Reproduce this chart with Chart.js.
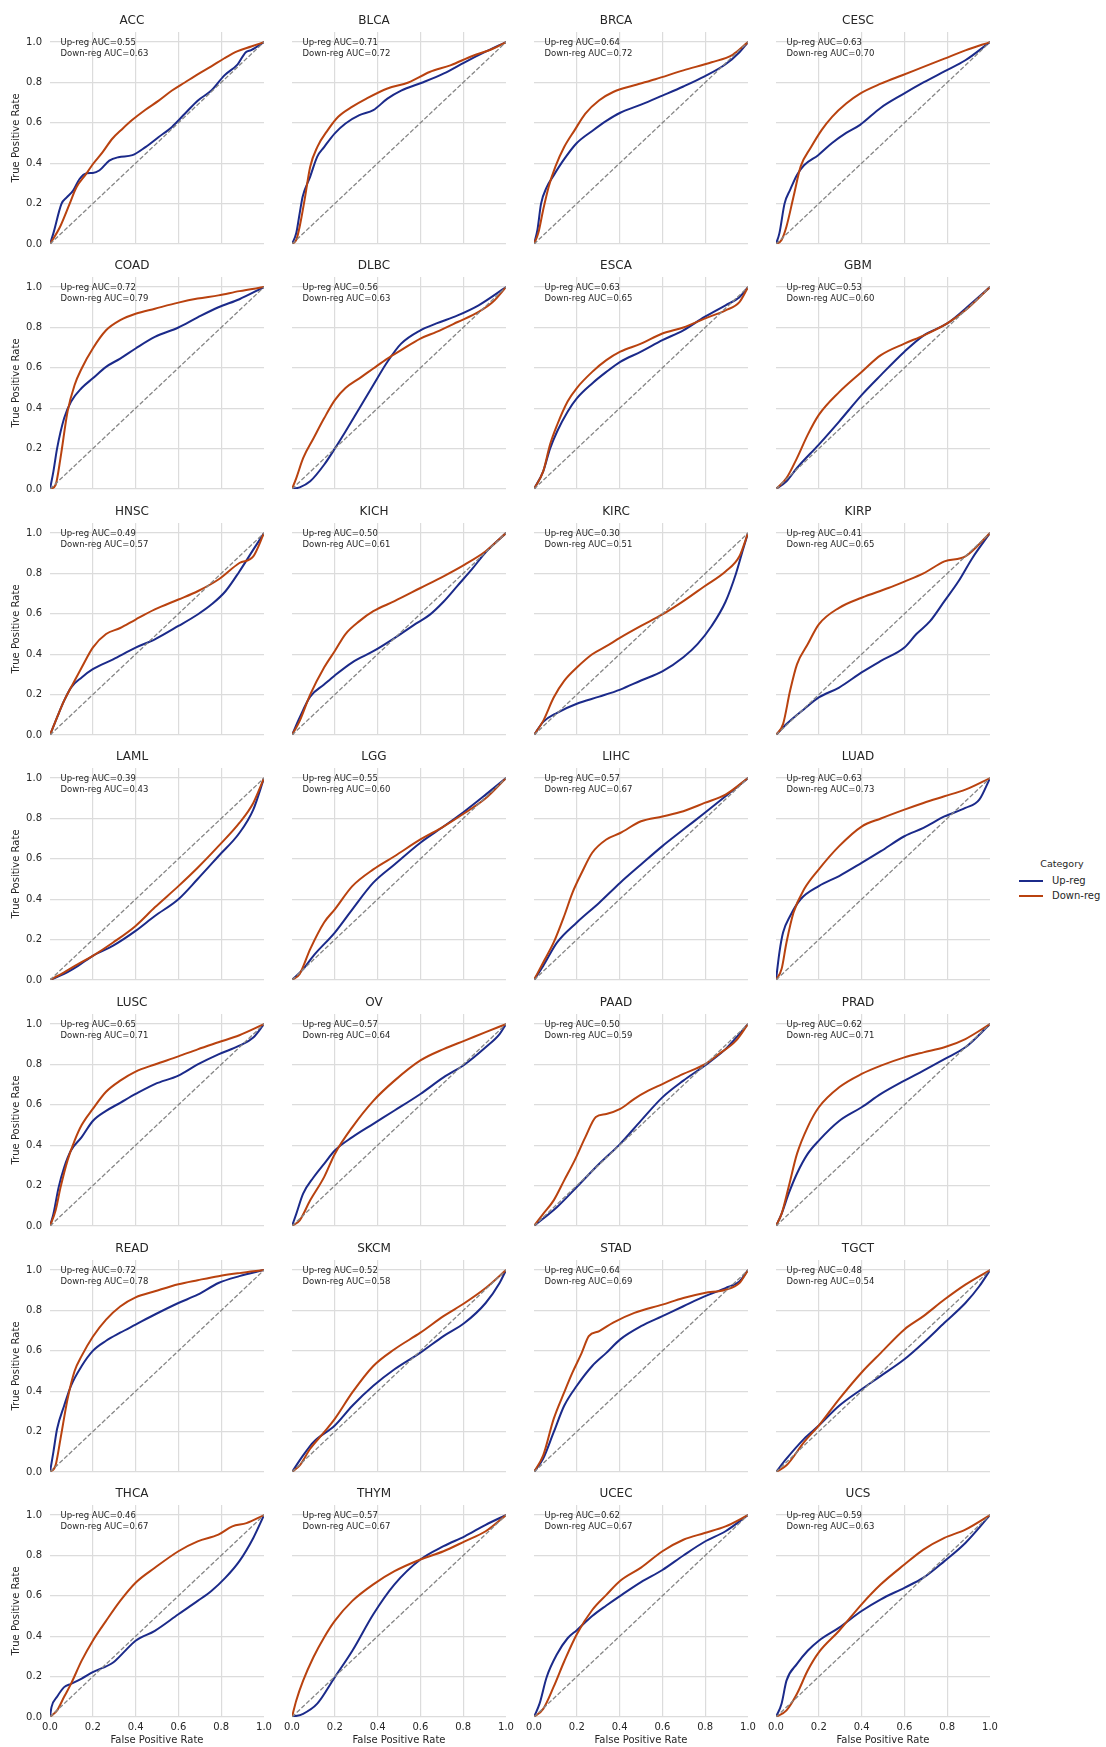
<!DOCTYPE html>
<html>
<head>
<meta charset="utf-8">
<script src="https://cdn.jsdelivr.net/npm/chart.js@4.4.1/dist/chart.umd.min.js"></script>
<style>
  html, body { margin: 0; padding: 0; background: #fff; }
  body { width: 1106px; height: 1747px; position: relative; overflow: hidden; font-family: "DejaVu Sans", sans-serif; color: #262626; }
  .panel { position: absolute; width: 272px; height: 280px; }
  .panel canvas { display: block; }
  .lg { position: absolute; white-space: nowrap; }
  .lg-line { position: absolute; height: 2px; width: 24px; }
</style>
</head>
<body>
<div class="lg" style="left:1012px;top:858px;width:100px;text-align:center;font-size:9.5px;line-height:12px;">Category</div>
<div class="lg-line" style="left:1019px;top:879.5px;background:#1b2a8a;"></div>
<div class="lg" style="left:1052px;top:874.5px;font-size:10px;line-height:12px;">Up-reg</div>
<div class="lg-line" style="left:1019px;top:894.5px;background:#b9420f;"></div>
<div class="lg" style="left:1052px;top:889.5px;font-size:10px;line-height:12px;">Down-reg</div>

<script>
// Cancer types, in panel order (4 per row)
const cancers = ['ACC','BLCA','BRCA','CESC','COAD','DLBC','ESCA','GBM','HNSC','KICH','KIRC','KIRP',
                 'LAML','LGG','LIHC','LUAD','LUSC','OV','PAAD','PRAD','READ','SKCM','STAD','TGCT',
                 'THCA','THYM','UCEC','UCS'];
const aucUp   = [0.55,0.71,0.64,0.63,0.72,0.56,0.63,0.53,0.49,0.50,0.30,0.41,
                 0.39,0.55,0.57,0.63,0.65,0.57,0.50,0.62,0.72,0.52,0.64,0.48,
                 0.46,0.57,0.62,0.59];
const aucDown = [0.63,0.72,0.72,0.70,0.79,0.63,0.65,0.60,0.57,0.61,0.51,0.65,
                 0.43,0.60,0.67,0.73,0.71,0.64,0.59,0.71,0.78,0.58,0.69,0.54,
                 0.67,0.67,0.67,0.63];
const xTicks = [0, 0.2, 0.4, 0.6, 0.8, 1.0];
const yTicks = [0, 0.2, 0.4, 0.6, 0.8, 1.0];
const chanceLine = [[0, 0], [1, 1]];

// ROC points as [FPR, TPR]
const upACC = [[0,0],[0.015,0.05],[0.054,0.2],[0.077,0.23],[0.108,0.264],[0.138,0.322],[0.172,0.35],[0.2,0.352],[0.23,0.364],[0.277,0.413],[0.32,0.43],[0.385,0.44],[0.446,0.48],[0.508,0.53],[0.57,0.58],[0.63,0.645],[0.69,0.71],[0.754,0.76],[0.815,0.835],[0.877,0.89],[0.915,0.95],[0.94,0.96],[1,1]];
const downACC = [[0,0],[0.046,0.083],[0.092,0.2],[0.123,0.28],[0.169,0.347],[0.2,0.395],[0.246,0.455],[0.29,0.52],[0.338,0.57],[0.385,0.615],[0.446,0.665],[0.508,0.71],[0.57,0.76],[0.63,0.8],[0.69,0.84],[0.754,0.88],[0.815,0.92],[0.877,0.955],[0.94,0.978],[1,1]];
const upBLCA = [[0,0],[0.02,0.054],[0.036,0.153],[0.05,0.235],[0.085,0.334],[0.118,0.433],[0.15,0.48],[0.2,0.548],[0.25,0.597],[0.315,0.638],[0.38,0.663],[0.446,0.72],[0.51,0.76],[0.61,0.8],[0.71,0.845],[0.807,0.9],[0.9,0.95],[1,1]];
const downBLCA = [[0,0],[0.02,0.02],[0.036,0.087],[0.059,0.22],[0.085,0.383],[0.118,0.48],[0.167,0.564],[0.216,0.63],[0.282,0.68],[0.348,0.72],[0.446,0.77],[0.544,0.8],[0.643,0.852],[0.74,0.885],[0.84,0.93],[0.938,0.967],[1,1]];
const upBRCA = [[0,0],[0.016,0.07],[0.033,0.2],[0.059,0.28],[0.092,0.34],[0.141,0.42],[0.2,0.5],[0.272,0.56],[0.338,0.61],[0.403,0.65],[0.5,0.69],[0.6,0.735],[0.698,0.78],[0.797,0.83],[0.895,0.89],[0.96,0.95],[1,1]];
const downBRCA = [[0,0],[0.02,0.054],[0.043,0.17],[0.069,0.285],[0.1,0.383],[0.141,0.48],[0.19,0.564],[0.24,0.646],[0.305,0.712],[0.37,0.753],[0.469,0.786],[0.567,0.816],[0.698,0.86],[0.83,0.9],[0.928,0.937],[1,1]];
const upCESC = [[0,0],[0.016,0.054],[0.04,0.2],[0.066,0.268],[0.098,0.342],[0.131,0.39],[0.197,0.44],[0.262,0.5],[0.328,0.55],[0.393,0.59],[0.49,0.675],[0.59,0.74],[0.689,0.8],[0.787,0.855],[0.885,0.91],[1,1]];
const downCESC = [[0,0],[0.026,0.02],[0.049,0.087],[0.082,0.235],[0.115,0.383],[0.164,0.48],[0.213,0.564],[0.262,0.63],[0.328,0.696],[0.393,0.745],[0.49,0.794],[0.59,0.836],[0.689,0.877],[0.787,0.918],[0.885,0.959],[1,1]];
const upCOAD = [[0,0],[0.016,0.087],[0.033,0.2],[0.066,0.35],[0.098,0.432],[0.148,0.5],[0.2,0.548],[0.262,0.605],[0.328,0.646],[0.4,0.696],[0.49,0.753],[0.6,0.8],[0.69,0.85],[0.787,0.9],[0.885,0.94],[1,1]];
const downCOAD = [[0,0],[0.026,0.02],[0.049,0.153],[0.082,0.383],[0.115,0.515],[0.148,0.597],[0.2,0.696],[0.262,0.786],[0.328,0.836],[0.4,0.868],[0.49,0.893],[0.6,0.923],[0.69,0.943],[0.787,0.959],[0.885,0.98],[1,1]];
const upDLBC = [[0,0],[0.036,0.008],[0.085,0.038],[0.15,0.12],[0.2,0.2],[0.25,0.285],[0.315,0.4],[0.38,0.515],[0.446,0.63],[0.51,0.72],[0.6,0.786],[0.675,0.82],[0.774,0.86],[0.872,0.91],[1,1]];
const downDLBC = [[0,0],[0.02,0.054],[0.052,0.153],[0.1,0.25],[0.15,0.35],[0.2,0.44],[0.25,0.5],[0.315,0.548],[0.38,0.597],[0.446,0.646],[0.51,0.688],[0.6,0.745],[0.675,0.778],[0.774,0.827],[0.872,0.877],[0.938,0.926],[1,1]];
const upESCA = [[0,0],[0.043,0.087],[0.075,0.2],[0.108,0.285],[0.157,0.383],[0.2,0.449],[0.272,0.523],[0.338,0.58],[0.403,0.63],[0.5,0.68],[0.6,0.737],[0.698,0.786],[0.797,0.852],[0.895,0.91],[0.96,0.95],[1,1]];
const downESCA = [[0,0],[0.043,0.087],[0.075,0.22],[0.108,0.317],[0.157,0.433],[0.2,0.5],[0.272,0.58],[0.338,0.638],[0.403,0.68],[0.5,0.72],[0.6,0.77],[0.698,0.8],[0.797,0.844],[0.895,0.885],[0.96,0.926],[1,1]];
const upGBM = [[0,0],[0.049,0.038],[0.098,0.104],[0.2,0.22],[0.295,0.334],[0.4,0.465],[0.49,0.564],[0.6,0.68],[0.689,0.76],[0.8,0.82],[0.885,0.893],[1,1]];
const downGBM = [[0,0],[0.049,0.054],[0.098,0.153],[0.148,0.268],[0.2,0.367],[0.295,0.48],[0.4,0.58],[0.49,0.663],[0.6,0.72],[0.689,0.76],[0.8,0.82],[0.885,0.885],[1,1]];
const upHNSC = [[0,0],[0.033,0.087],[0.066,0.17],[0.098,0.235],[0.148,0.285],[0.2,0.326],[0.295,0.375],[0.4,0.433],[0.49,0.474],[0.6,0.54],[0.69,0.597],[0.754,0.646],[0.82,0.712],[0.885,0.81],[0.95,0.918],[1,1]];
const downHNSC = [[0,0],[0.033,0.087],[0.066,0.17],[0.098,0.235],[0.148,0.334],[0.2,0.433],[0.262,0.5],[0.328,0.53],[0.4,0.572],[0.49,0.622],[0.6,0.671],[0.69,0.712],[0.787,0.77],[0.885,0.852],[0.95,0.885],[1,1]];
const upKICH = [[0,0],[0.036,0.087],[0.085,0.19],[0.15,0.25],[0.2,0.295],[0.282,0.36],[0.38,0.415],[0.479,0.48],[0.577,0.55],[0.643,0.595],[0.708,0.66],[0.774,0.74],[0.84,0.82],[0.905,0.905],[1,1]];
const downKICH = [[0,0],[0.036,0.07],[0.085,0.2],[0.15,0.334],[0.2,0.416],[0.25,0.5],[0.315,0.564],[0.38,0.613],[0.479,0.663],[0.6,0.728],[0.708,0.786],[0.807,0.844],[0.905,0.91],[1,1]];
const upKIRC = [[0,0],[0.043,0.065],[0.108,0.11],[0.2,0.155],[0.305,0.19],[0.403,0.225],[0.5,0.27],[0.6,0.315],[0.698,0.385],[0.764,0.45],[0.83,0.54],[0.895,0.66],[0.944,0.8],[0.977,0.92],[1,1]];
const downKIRC = [[0,0],[0.043,0.07],[0.092,0.186],[0.141,0.268],[0.2,0.334],[0.272,0.4],[0.338,0.44],[0.403,0.482],[0.5,0.54],[0.6,0.597],[0.698,0.663],[0.797,0.737],[0.895,0.81],[0.96,0.885],[1,1]];
const upKIRP = [[0,0],[0.049,0.054],[0.131,0.128],[0.2,0.186],[0.295,0.235],[0.4,0.31],[0.49,0.367],[0.6,0.433],[0.656,0.5],[0.72,0.564],[0.787,0.663],[0.852,0.76],[0.918,0.877],[1,1]];
const downKIRP = [[0,0],[0.033,0.054],[0.066,0.22],[0.098,0.35],[0.148,0.449],[0.2,0.548],[0.295,0.63],[0.4,0.68],[0.525,0.728],[0.6,0.76],[0.689,0.8],[0.787,0.86],[0.885,0.885],[1,1]];
const upLAML = [[0,0],[0.066,0.03],[0.131,0.07],[0.2,0.12],[0.295,0.17],[0.4,0.243],[0.49,0.317],[0.6,0.4],[0.69,0.5],[0.787,0.613],[0.885,0.728],[0.95,0.844],[1,1]];
const downLAML = [[0,0],[0.066,0.038],[0.131,0.079],[0.2,0.12],[0.295,0.186],[0.4,0.268],[0.49,0.36],[0.6,0.465],[0.69,0.556],[0.787,0.663],[0.885,0.778],[0.95,0.877],[1,1]];
const upLGG = [[0,0],[0.052,0.054],[0.1,0.12],[0.2,0.235],[0.282,0.35],[0.38,0.482],[0.479,0.572],[0.6,0.68],[0.708,0.76],[0.807,0.836],[0.905,0.918],[1,1]];
const downLGG = [[0,0],[0.036,0.03],[0.085,0.153],[0.15,0.285],[0.2,0.35],[0.282,0.465],[0.38,0.548],[0.479,0.613],[0.6,0.696],[0.708,0.76],[0.807,0.827],[0.905,0.9],[1,1]];
const upLIHC = [[0,0],[0.043,0.07],[0.108,0.186],[0.2,0.285],[0.305,0.383],[0.403,0.482],[0.5,0.572],[0.6,0.663],[0.698,0.745],[0.797,0.827],[0.895,0.91],[1,1]];
const downLIHC = [[0,0],[0.043,0.087],[0.092,0.186],[0.141,0.317],[0.18,0.433],[0.223,0.531],[0.272,0.63],[0.338,0.696],[0.403,0.728],[0.5,0.786],[0.6,0.81],[0.698,0.836],[0.797,0.877],[0.895,0.918],[1,1]];
const upLUAD = [[0,0],[0.016,0.137],[0.033,0.235],[0.066,0.317],[0.115,0.4],[0.2,0.465],[0.295,0.515],[0.4,0.58],[0.49,0.638],[0.6,0.712],[0.689,0.753],[0.787,0.81],[0.885,0.852],[0.95,0.893],[1,1]];
const downLUAD = [[0,0],[0.026,0.054],[0.049,0.186],[0.082,0.334],[0.131,0.449],[0.2,0.548],[0.295,0.663],[0.4,0.76],[0.49,0.8],[0.6,0.844],[0.689,0.877],[0.787,0.91],[0.885,0.943],[1,1]];
const upLUSC = [[0,0],[0.016,0.06],[0.04,0.19],[0.066,0.29],[0.098,0.374],[0.148,0.44],[0.2,0.52],[0.262,0.57],[0.328,0.61],[0.4,0.654],[0.49,0.703],[0.6,0.745],[0.69,0.8],[0.787,0.85],[0.885,0.893],[0.95,0.934],[1,1]];
const downLUSC = [[0,0],[0.026,0.077],[0.049,0.19],[0.082,0.325],[0.115,0.423],[0.148,0.5],[0.2,0.58],[0.262,0.665],[0.328,0.72],[0.4,0.765],[0.49,0.8],[0.6,0.84],[0.69,0.875],[0.787,0.91],[0.885,0.945],[1,1]];
const upOV = [[0,0],[0.02,0.06],[0.052,0.16],[0.1,0.24],[0.15,0.308],[0.2,0.374],[0.282,0.44],[0.38,0.506],[0.479,0.572],[0.6,0.654],[0.708,0.736],[0.807,0.8],[0.905,0.885],[0.97,0.95],[1,1]];
const downOV = [[0,0],[0.036,0.028],[0.085,0.127],[0.15,0.242],[0.2,0.357],[0.282,0.49],[0.38,0.62],[0.479,0.72],[0.6,0.82],[0.708,0.876],[0.807,0.918],[0.905,0.96],[1,1]];
const upPAAD = [[0,0],[0.108,0.094],[0.2,0.193],[0.305,0.308],[0.403,0.407],[0.5,0.522],[0.6,0.637],[0.698,0.72],[0.797,0.794],[0.895,0.876],[1,1]];
const downPAAD = [[0,0],[0.043,0.06],[0.092,0.127],[0.141,0.226],[0.19,0.325],[0.24,0.44],[0.289,0.54],[0.338,0.555],[0.403,0.58],[0.469,0.63],[0.534,0.67],[0.6,0.703],[0.698,0.753],[0.797,0.8],[0.862,0.85],[0.944,0.918],[1,1]];
const upPRAD = [[0,0],[0.026,0.06],[0.059,0.16],[0.098,0.26],[0.148,0.357],[0.2,0.423],[0.295,0.52],[0.4,0.588],[0.49,0.654],[0.6,0.72],[0.689,0.77],[0.787,0.827],[0.885,0.885],[1,1]];
const downPRAD = [[0,0],[0.026,0.06],[0.059,0.193],[0.098,0.357],[0.148,0.49],[0.2,0.588],[0.295,0.687],[0.4,0.753],[0.49,0.794],[0.6,0.835],[0.689,0.86],[0.787,0.885],[0.885,0.926],[1,1]];
const upREAD = [[0,0],[0.016,0.1],[0.033,0.213],[0.066,0.328],[0.098,0.427],[0.148,0.525],[0.2,0.6],[0.262,0.65],[0.328,0.69],[0.4,0.73],[0.49,0.78],[0.6,0.837],[0.69,0.878],[0.787,0.936],[0.885,0.97],[1,1]];
const downREAD = [[0,0],[0.026,0.033],[0.049,0.164],[0.082,0.361],[0.115,0.5],[0.148,0.575],[0.2,0.67],[0.262,0.755],[0.328,0.82],[0.4,0.865],[0.49,0.895],[0.6,0.93],[0.69,0.95],[0.787,0.97],[0.885,0.985],[1,1]];
const upSKCM = [[0,0],[0.052,0.082],[0.1,0.148],[0.2,0.23],[0.282,0.328],[0.38,0.427],[0.479,0.509],[0.6,0.591],[0.708,0.673],[0.807,0.739],[0.905,0.837],[0.97,0.936],[1,1]];
const downSKCM = [[0,0],[0.036,0.033],[0.085,0.115],[0.15,0.197],[0.2,0.263],[0.282,0.394],[0.38,0.525],[0.479,0.608],[0.6,0.69],[0.708,0.772],[0.807,0.837],[0.905,0.911],[1,1]];
const upSTAD = [[0,0],[0.043,0.066],[0.092,0.197],[0.141,0.328],[0.2,0.427],[0.272,0.525],[0.338,0.59],[0.403,0.657],[0.5,0.722],[0.6,0.772],[0.698,0.821],[0.797,0.87],[0.895,0.911],[0.96,0.944],[1,1]];
const downSTAD = [[0,0],[0.043,0.082],[0.092,0.263],[0.141,0.394],[0.18,0.493],[0.223,0.59],[0.256,0.673],[0.305,0.698],[0.37,0.74],[0.469,0.788],[0.6,0.829],[0.698,0.862],[0.797,0.887],[0.895,0.903],[0.96,0.936],[1,1]];
const upTGCT = [[0,0],[0.049,0.066],[0.131,0.164],[0.2,0.23],[0.295,0.328],[0.4,0.41],[0.49,0.476],[0.6,0.558],[0.689,0.64],[0.787,0.739],[0.885,0.837],[0.95,0.92],[1,1]];
const downTGCT = [[0,0],[0.049,0.033],[0.131,0.148],[0.2,0.23],[0.295,0.361],[0.4,0.493],[0.49,0.59],[0.6,0.706],[0.689,0.772],[0.787,0.854],[0.885,0.928],[1,1]];
const upTHCA = [[0,0],[0.007,0.049],[0.033,0.1],[0.066,0.148],[0.098,0.164],[0.148,0.19],[0.2,0.222],[0.295,0.27],[0.344,0.32],[0.4,0.378],[0.49,0.427],[0.6,0.509],[0.69,0.575],[0.754,0.624],[0.82,0.69],[0.885,0.772],[0.95,0.887],[1,1]];
const downTHCA = [[0,0],[0.033,0.033],[0.066,0.1],[0.098,0.164],[0.148,0.279],[0.2,0.378],[0.262,0.476],[0.328,0.575],[0.4,0.665],[0.49,0.739],[0.6,0.821],[0.69,0.87],[0.787,0.903],[0.852,0.944],[0.918,0.96],[1,1]];
const upTHYM = [[0,0],[0.052,0.016],[0.118,0.066],[0.2,0.197],[0.282,0.328],[0.38,0.509],[0.479,0.657],[0.6,0.78],[0.708,0.846],[0.807,0.895],[0.905,0.952],[1,1]];
const downTHYM = [[0,0],[0.02,0.082],[0.052,0.18],[0.1,0.296],[0.15,0.394],[0.2,0.476],[0.282,0.575],[0.38,0.657],[0.479,0.722],[0.6,0.78],[0.708,0.821],[0.807,0.87],[0.905,0.92],[1,1]];
const upUCEC = [[0,0],[0.026,0.066],[0.059,0.197],[0.108,0.312],[0.157,0.39],[0.2,0.43],[0.272,0.5],[0.338,0.552],[0.403,0.6],[0.5,0.668],[0.6,0.728],[0.698,0.8],[0.797,0.868],[0.895,0.92],[1,1]];
const downUCEC = [[0,0],[0.043,0.04],[0.092,0.15],[0.141,0.275],[0.2,0.41],[0.272,0.53],[0.338,0.605],[0.403,0.675],[0.5,0.74],[0.6,0.821],[0.698,0.878],[0.797,0.911],[0.895,0.944],[1,1]];
const upUCS = [[0,0],[0.026,0.066],[0.049,0.18],[0.098,0.263],[0.148,0.328],[0.2,0.378],[0.295,0.443],[0.4,0.525],[0.49,0.583],[0.6,0.64],[0.689,0.69],[0.787,0.772],[0.885,0.862],[1,1]];
const downUCS = [[0,0],[0.049,0.033],[0.098,0.115],[0.148,0.23],[0.2,0.32],[0.295,0.427],[0.4,0.558],[0.49,0.657],[0.6,0.755],[0.689,0.829],[0.787,0.887],[0.885,0.928],[1,1]];

const upCurves = [upACC, upBLCA, upBRCA, upCESC, upCOAD, upDLBC, upESCA, upGBM, upHNSC, upKICH, upKIRC, upKIRP,
                  upLAML, upLGG, upLIHC, upLUAD, upLUSC, upOV, upPAAD, upPRAD, upREAD, upSKCM, upSTAD, upTGCT,
                  upTHCA, upTHYM, upUCEC, upUCS];
const downCurves = [downACC, downBLCA, downBRCA, downCESC, downCOAD, downDLBC, downESCA, downGBM, downHNSC, downKICH, downKIRC, downKIRP,
                    downLAML, downLGG, downLIHC, downLUAD, downLUSC, downOV, downPAAD, downPRAD, downREAD, downSKCM, downSTAD, downTGCT,
                    downTHCA, downTHYM, downUCEC, downUCS];

const UP_COLOR = '#1b2a8a';
const DOWN_COLOR = '#b9420f';
const GRID_COLOR = '#dcdcdc';
const TEXT_COLOR = '#262626';
const FONT = '"DejaVu Sans", sans-serif';

Chart.defaults.font.family = FONT;
Chart.defaults.color = TEXT_COLOR;

const NCOLS = 4, NROWS = 7;
const panelLeft = [0, 242, 484, 726];
const panelTop = [0, 245, 491, 736, 982, 1228, 1473];

// AUC annotation in the upper-left corner of each panel
const aucLabel = {
  id: 'aucLabel',
  afterDatasetsDraw(chart, args, opts) {
    const { ctx, chartArea: a } = chart;
    ctx.save();
    ctx.font = '8.5px ' + FONT;
    ctx.fillStyle = TEXT_COLOR;
    ctx.textBaseline = 'middle';
    ctx.textAlign = 'left';
    ctx.fillText(opts.lines[0], a.left + 10.5, a.top + 10.3);
    ctx.fillText(opts.lines[1], a.left + 10.5, a.top + 21.3);
    ctx.restore();
  }
};

const toXY = pts => pts.map(([x, y]) => ({ x, y }));
const near = (v, t) => Math.abs(v - t) < 1e-6;

cancers.forEach((name, i) => {
  const r = Math.floor(i / NCOLS), c = i % NCOLS;
  const isLeft = c === 0, isBottom = r === NROWS - 1;
  const holder = document.createElement('div');
  holder.className = 'panel';
  holder.style.left = panelLeft[c] + 'px';
  holder.style.top = panelTop[r] + 'px';
  const cv = document.createElement('canvas');
  cv.width = 272; cv.height = 280;
  holder.appendChild(cv);
  document.body.appendChild(holder);

  new Chart(cv, {
    type: 'scatter',
    data: {
      datasets: [
        { label: 'Up-reg', data: toXY(upCurves[i]), showLine: true, borderColor: UP_COLOR, borderWidth: 2,
          pointRadius: 0, cubicInterpolationMode: 'monotone', order: 2 },
        { label: 'Down-reg', data: toXY(downCurves[i]), showLine: true, borderColor: DOWN_COLOR, borderWidth: 2,
          pointRadius: 0, cubicInterpolationMode: 'monotone', order: 1 },
        { label: 'chance', data: toXY(chanceLine), showLine: true, borderColor: '#868686', borderWidth: 1.3,
          borderDash: [4.5, 2], pointRadius: 0, order: 0 }
      ]
    },
    options: {
      responsive: false, animation: false, devicePixelRatio: 1,
      layout: { padding: { left: 0, right: 8, top: 0, bottom: 0 } },
      plugins: {
        legend: { display: false },
        tooltip: { enabled: false },
        title: { display: true, text: name, color: TEXT_COLOR,
                 font: { size: 12, weight: 'normal', lineHeight: 1.2 }, padding: { top: 14.1, bottom: 3.5 } },
        aucLabel: { lines: ['Up-reg AUC=' + aucUp[i].toFixed(2), 'Down-reg AUC=' + aucDown[i].toFixed(2)] }
      },
      scales: {
        x: {
          type: 'linear', min: 0, max: 1,
          border: { display: false },
          grid: { drawTicks: false, lineWidth: 1.2,
                  color: ctx => (ctx.tick && (near(ctx.tick.value, 0) || near(ctx.tick.value, 1))) ? 'rgba(0,0,0,0)' : GRID_COLOR },
          afterBuildTicks: s => { s.ticks = xTicks.map(v => ({ value: v })); },
          ticks: { display: isBottom, padding: 4, color: TEXT_COLOR, font: { size: 10 }, maxRotation: 0, autoSkip: false,
                   callback: v => Number(v).toFixed(1) },
          title: { display: isBottom, text: 'False Positive Rate', color: TEXT_COLOR, font: { size: 10, lineHeight: 1.2 },
                   padding: { top: 0, bottom: 7 } },
          afterFit: s => { s.height = 36; s.paddingLeft = 0; s.paddingRight = 0; }
        },
        y: {
          type: 'linear', min: 0, max: 1.05,
          border: { display: false },
          grid: { drawTicks: false, lineWidth: 1.2, color: GRID_COLOR },
          afterBuildTicks: s => { s.ticks = yTicks.map(v => ({ value: v })); },
          ticks: { display: isLeft, padding: 8, color: TEXT_COLOR, font: { size: 10 },
                   callback: v => Number(v).toFixed(1) },
          title: { display: isLeft, text: 'True Positive Rate', color: TEXT_COLOR, font: { size: 10, lineHeight: 1.2 },
                   padding: { top: 10.5, bottom: 0 } },
          afterFit: s => { s.width = 50; s.paddingTop = 0; s.paddingBottom = 0; }
        }
      }
    },
    plugins: [aucLabel]
  });
});
</script>
</body>
</html>
